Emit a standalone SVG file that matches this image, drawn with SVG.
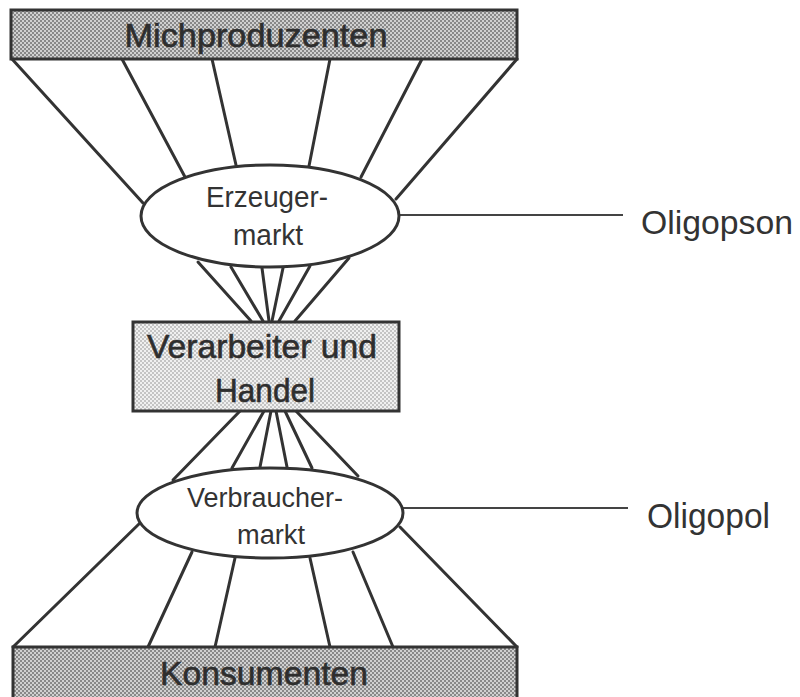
<svg xmlns="http://www.w3.org/2000/svg" width="800" height="697" viewBox="0 0 800 697">
<defs>
<pattern id="dark" patternUnits="userSpaceOnUse" width="4" height="4">
<rect width="4" height="4" fill="#d0d0d0"/>
<rect width="2" height="2" fill="#888"/>
<rect x="2" y="2" width="2" height="2" fill="#888"/>
</pattern>
<pattern id="light" patternUnits="userSpaceOnUse" width="4" height="4">
<rect width="4" height="4" fill="#f0f0f0"/>
<rect width="2" height="2" fill="#c4c4c4"/>
<rect x="2" y="2" width="2" height="2" fill="#c4c4c4"/>
</pattern>
</defs>
<style>
.ln{stroke:#333;stroke-width:3;fill:none;stroke-linecap:round}
.thin{stroke:#444;stroke-width:2;fill:none}
.box{stroke:#333;stroke-width:3}
.ell{fill:#fff;stroke:#333;stroke-width:3}
.t{font-family:"Liberation Sans",Arial,sans-serif;fill:#333;text-anchor:middle}
.tb{font-family:"Liberation Sans",Arial,sans-serif;fill:#2e2e2e;stroke:#2e2e2e;stroke-width:0.6;text-anchor:middle}
.side{font-family:"Liberation Sans",Arial,sans-serif;fill:#333}
</style>
<rect width="800" height="697" fill="#fff"/>
<g id="connectors">
<line class="ln" x1="12" y1="59" x2="143" y2="203"/>
<line class="ln" x1="122" y1="59" x2="185" y2="177"/>
<line class="ln" x1="212" y1="59" x2="236" y2="165"/>
<line class="ln" x1="330" y1="59" x2="309" y2="166"/>
<line class="ln" x1="422" y1="59" x2="361" y2="177"/>
<line class="ln" x1="517" y1="59" x2="396" y2="199"/>
<line class="ln" x1="198" y1="262" x2="251" y2="321"/>
<line class="ln" x1="231" y1="267" x2="263" y2="321"/>
<line class="ln" x1="262" y1="268" x2="269" y2="321"/>
<line class="ln" x1="283" y1="268" x2="272" y2="321"/>
<line class="ln" x1="310" y1="266" x2="279" y2="321"/>
<line class="ln" x1="349" y1="258" x2="295" y2="321"/>
<line class="ln" x1="240" y1="411" x2="173" y2="480"/>
<line class="ln" x1="264" y1="411" x2="232" y2="468"/>
<line class="ln" x1="271" y1="411" x2="260" y2="467"/>
<line class="ln" x1="276" y1="411" x2="287" y2="467"/>
<line class="ln" x1="285" y1="411" x2="312" y2="468"/>
<line class="ln" x1="296" y1="411" x2="358" y2="476"/>
<line class="ln" x1="140" y1="523" x2="13" y2="647"/>
<line class="ln" x1="192" y1="552" x2="148" y2="647"/>
<line class="ln" x1="235" y1="558" x2="215" y2="647"/>
<line class="ln" x1="310" y1="558" x2="330" y2="647"/>
<line class="ln" x1="353" y1="552" x2="393" y2="647"/>
<line class="ln" x1="400" y1="527" x2="517" y2="647"/>
<line class="thin" x1="399" y1="215" x2="623" y2="215"/>
<line class="thin" x1="403" y1="508" x2="628" y2="508"/>
</g>
<g id="michproduzenten">
<rect class="box" x="11" y="10" width="506" height="49" fill="url(#dark)"/>
<text class="tb" x="256" y="47" font-size="33" textLength="263" lengthAdjust="spacingAndGlyphs">Michproduzenten</text>
</g>
<g id="erzeugermarkt">
<ellipse class="ell" cx="270" cy="216" rx="129" ry="51"/>
<text class="t" x="267" y="207" font-size="29" textLength="122" lengthAdjust="spacingAndGlyphs">Erzeuger-</text>
<text class="t" x="268" y="245" font-size="29" textLength="70" lengthAdjust="spacingAndGlyphs">markt</text>
</g>
<g id="verarbeiter">
<rect class="box" x="133" y="322" width="266" height="89" fill="url(#light)"/>
<text class="tb" x="262" y="358" font-size="34" textLength="230" lengthAdjust="spacingAndGlyphs">Verarbeiter und</text>
<text class="tb" x="265" y="402" font-size="34" textLength="100" lengthAdjust="spacingAndGlyphs">Handel</text>
</g>
<g id="verbrauchermarkt">
<ellipse class="ell" cx="270" cy="513" rx="133" ry="45"/>
<text class="t" x="265" y="507" font-size="27" textLength="156" lengthAdjust="spacingAndGlyphs">Verbraucher-</text>
<text class="t" x="271" y="544" font-size="27" textLength="68" lengthAdjust="spacingAndGlyphs">markt</text>
</g>
<g id="konsumenten">
<rect class="box" x="13" y="647" width="504" height="60" fill="url(#dark)"/>
<text class="tb" x="264" y="685" font-size="34" textLength="208" lengthAdjust="spacingAndGlyphs">Konsumenten</text>
</g>
<g id="oligopson">
<text class="side" x="641" y="234" font-size="34" textLength="152" lengthAdjust="spacingAndGlyphs">Oligopson</text>
</g>
<g id="oligopol">
<text class="side" x="647" y="528" font-size="35" textLength="123" lengthAdjust="spacingAndGlyphs">Oligopol</text>
</g>
</svg>
